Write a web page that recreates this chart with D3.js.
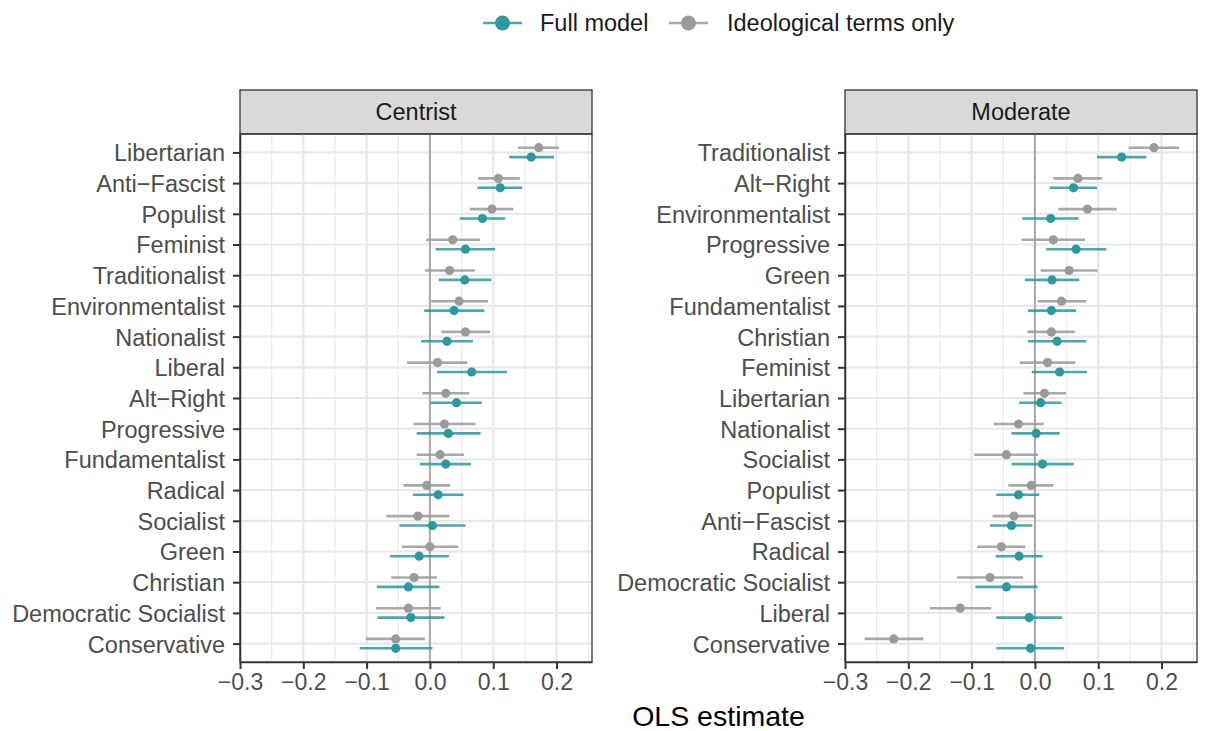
<!DOCTYPE html>
<html>
<head>
<meta charset="utf-8">
<script src="https://cdn.jsdelivr.net/npm/d3@7"></script>
<style>
  body { margin: 0; background: #fff; }
  text { font-family: "Liberation Sans", Arial, sans-serif; }
</style>
</head>
<body>
<svg id="chart" width="1207" height="731"></svg>
<script>
// ---- Centrist panel: categories top to bottom with estimates and 95% CIs ----
const centristTerms = ["Libertarian","Anti\u2212Fascist","Populist","Feminist","Traditionalist","Environmentalist","Nationalist","Liberal","Alt\u2212Right","Progressive","Fundamentalist","Radical","Socialist","Green","Christian","Democratic Socialist","Conservative"];
const centristFull     = [0.160, 0.111, 0.083, 0.056, 0.055, 0.038, 0.027, 0.066, 0.042, 0.029, 0.025, 0.013, 0.004, -0.017, -0.034, -0.030, -0.054];
const centristFullLo   = [0.125, 0.075, 0.047, 0.009, 0.014, -0.009, -0.014, 0.011, 0.001, -0.021, -0.016, -0.027, -0.048, -0.063, -0.084, -0.083, -0.111];
const centristFullHi   = [0.196, 0.146, 0.119, 0.103, 0.097, 0.086, 0.068, 0.122, 0.082, 0.080, 0.065, 0.053, 0.056, 0.030, 0.015, 0.023, 0.004];
const centristIdeo     = [0.172, 0.108, 0.098, 0.036, 0.031, 0.046, 0.056, 0.012, 0.025, 0.023, 0.016, -0.005, -0.019, 0.000, -0.025, -0.034, -0.054];
const centristIdeoLo   = [0.139, 0.076, 0.063, -0.006, -0.008, 0.002, 0.018, -0.036, -0.012, -0.026, -0.021, -0.042, -0.069, -0.044, -0.061, -0.085, -0.101];
const centristIdeoHi   = [0.204, 0.142, 0.132, 0.079, 0.071, 0.092, 0.095, 0.059, 0.062, 0.072, 0.054, 0.032, 0.031, 0.045, 0.011, 0.017, -0.008];

// ---- Moderate panel ----
const moderateTerms = ["Traditionalist","Alt\u2212Right","Environmentalist","Progressive","Green","Fundamentalist","Christian","Feminist","Libertarian","Nationalist","Socialist","Populist","Anti\u2212Fascist","Radical","Democratic Socialist","Liberal","Conservative"];
const moderateFull     = [0.137, 0.061, 0.025, 0.065, 0.027, 0.026, 0.035, 0.039, 0.009, 0.002, 0.012, -0.026, -0.037, -0.025, -0.045, -0.009, -0.007];
const moderateFullLo   = [0.098, 0.023, -0.020, 0.018, -0.016, -0.011, -0.011, -0.005, -0.025, -0.037, -0.037, -0.061, -0.071, -0.062, -0.094, -0.061, -0.061];
const moderateFullHi   = [0.176, 0.098, 0.069, 0.113, 0.070, 0.065, 0.081, 0.082, 0.042, 0.039, 0.061, 0.007, -0.004, 0.012, 0.004, 0.043, 0.046];
const moderateIdeo     = [0.188, 0.068, 0.083, 0.029, 0.054, 0.042, 0.026, 0.020, 0.015, -0.026, -0.045, -0.006, -0.033, -0.053, -0.071, -0.118, -0.223];
const moderateIdeoLo   = [0.148, 0.029, 0.037, -0.021, 0.009, 0.004, -0.012, -0.024, -0.018, -0.065, -0.096, -0.042, -0.067, -0.091, -0.123, -0.166, -0.269];
const moderateIdeoHi   = [0.228, 0.106, 0.129, 0.079, 0.099, 0.081, 0.063, 0.064, 0.049, 0.014, 0.005, 0.029, 0.001, -0.015, -0.019, -0.069, -0.176];

const xTicks = [-0.3, -0.2, -0.1, 0.0, 0.1, 0.2];
const xMinorTicks = [-0.25, -0.15, -0.05, 0.05, 0.15, 0.25];
const seriesNames = ["Full model", "Ideological terms only"];
const seriesColors = ["#2a9aa0", "#9a9a9a"];

const panels = [
  { title: "Centrist", terms: centristTerms,
    full: [centristFull, centristFullLo, centristFullHi],
    ideo: [centristIdeo, centristIdeoLo, centristIdeoHi] },
  { title: "Moderate", terms: moderateTerms,
    full: [moderateFull, moderateFullLo, moderateFullHi],
    ideo: [moderateIdeo, moderateIdeoLo, moderateIdeoHi] }
];

const svg = d3.select("#chart");
const panelW = 352, panelH = 528, panelTop = 134, stripH = 44;
const panelLefts = [240, 845];
const dodge = 4.7;

const x = d3.scaleLinear().domain([-0.3, 0.256]).range([0, panelW]);
const fmt = d => d.toFixed(1).replace("-", "\u2212");

panels.forEach((p, i) => {
  const g = svg.append("g").attr("transform", `translate(${panelLefts[i]},${panelTop})`);
  const y = d3.scalePoint().domain(p.terms).range([0, panelH]).padding(0.6);

  // strip
  g.append("rect").attr("x", 0).attr("y", -stripH).attr("width", panelW).attr("height", stripH)
    .attr("fill", "#d9d9d9").attr("stroke", "#333").attr("stroke-width", 1.3);
  g.append("text").attr("x", panelW / 2).attr("y", -stripH / 2).attr("dy", "0.36em")
    .attr("text-anchor", "middle").attr("font-size", 23.5).attr("fill", "#1a1a1a").text(p.title);

  // grid
  g.append("g").selectAll("line").data(xMinorTicks).join("line")
    .attr("x1", d => x(d)).attr("x2", d => x(d)).attr("y1", 0).attr("y2", panelH)
    .attr("stroke", "#ebebeb").attr("stroke-width", 1.2);
  g.append("g").selectAll("line").data(xTicks).join("line")
    .attr("x1", d => x(d)).attr("x2", d => x(d)).attr("y1", 0).attr("y2", panelH)
    .attr("stroke", "#e8e8e8").attr("stroke-width", 2.2);
  g.append("g").selectAll("line").data(p.terms).join("line")
    .attr("x1", 0).attr("x2", panelW).attr("y1", d => y(d)).attr("y2", d => y(d))
    .attr("stroke", "#e8e8e8").attr("stroke-width", 2.2);

  // zero reference line
  g.append("line").attr("x1", x(0)).attr("x2", x(0)).attr("y1", 0).attr("y2", panelH)
    .attr("stroke", "#a9a9a9").attr("stroke-width", 2);

  // series: ideological terms only (upper), full model (lower)
  const series = [
    { vals: p.ideo, color: seriesColors[1], off: -dodge },
    { vals: p.full, color: seriesColors[0], off: dodge }
  ];
  series.forEach(s => {
    const rows = p.terms.map((t, k) => ({ t, est: s.vals[0][k], lo: s.vals[1][k], hi: s.vals[2][k] }));
    const sg = g.append("g");
    sg.selectAll("line").data(rows).join("line")
      .attr("x1", d => x(d.lo)).attr("x2", d => x(d.hi))
      .attr("y1", d => y(d.t) + s.off).attr("y2", d => y(d.t) + s.off)
      .attr("stroke", s.color).attr("stroke-width", 2.6).attr("opacity", 0.85);
    sg.selectAll("circle").data(rows).join("circle")
      .attr("cx", d => x(d.est)).attr("cy", d => y(d.t) + s.off).attr("r", 4.6)
      .attr("fill", s.color);
  });

  // panel border
  g.append("rect").attr("width", panelW).attr("height", panelH)
    .attr("fill", "none").attr("stroke", "#333").attr("stroke-width", 1.3);

  // axes
  const yAxis = g.append("g").call(d3.axisLeft(y).tickSizeInner(7).tickSizeOuter(0).tickPadding(8));
  yAxis.select(".domain").attr("stroke", "#333").attr("stroke-width", 1.5);
  yAxis.selectAll(".tick line").attr("stroke", "#333").attr("stroke-width", 2);
  yAxis.selectAll(".tick text").attr("font-size", 23.5).attr("fill", "#4d4d4d")
    .attr("font-family", "'Liberation Sans', Arial, sans-serif").attr("dy", "0.36em");

  const xAxis = g.append("g").attr("transform", `translate(0,${panelH})`)
    .call(d3.axisBottom(x).tickValues(xTicks).tickFormat(fmt).tickSizeInner(7).tickSizeOuter(0).tickPadding(5));
  xAxis.select(".domain").attr("stroke", "#333").attr("stroke-width", 1.5);
  xAxis.selectAll(".tick line").attr("stroke", "#333").attr("stroke-width", 2);
  xAxis.selectAll(".tick text").attr("font-size", 23).attr("fill", "#4d4d4d")
    .attr("font-family", "'Liberation Sans', Arial, sans-serif");
});

// x-axis title
svg.append("text").attr("x", (panelLefts[0] + panelLefts[1] + panelW) / 2).attr("y", 726)
  .attr("text-anchor", "middle").attr("font-size", 28.5).attr("fill", "#000").text("OLS estimate");

// legend
const legendItems = [
  { name: seriesNames[0], color: seriesColors[0], x: 483, tx: 540 },
  { name: seriesNames[1], color: seriesColors[1], x: 669, tx: 727 }
];
const lg = svg.append("g");
legendItems.forEach(d => {
  lg.append("line").attr("x1", d.x).attr("x2", d.x + 39).attr("y1", 23).attr("y2", 23)
    .attr("stroke", d.color).attr("stroke-width", 2.6).attr("opacity", 0.85);
  lg.append("circle").attr("cx", d.x + 19.5).attr("cy", 23).attr("r", 7.5).attr("fill", d.color);
  lg.append("text").attr("x", d.tx).attr("y", 23).attr("dy", "0.36em")
    .attr("font-size", 23.5).attr("fill", "#1a1a1a").text(d.name);
});
</script>
</body>
</html>
